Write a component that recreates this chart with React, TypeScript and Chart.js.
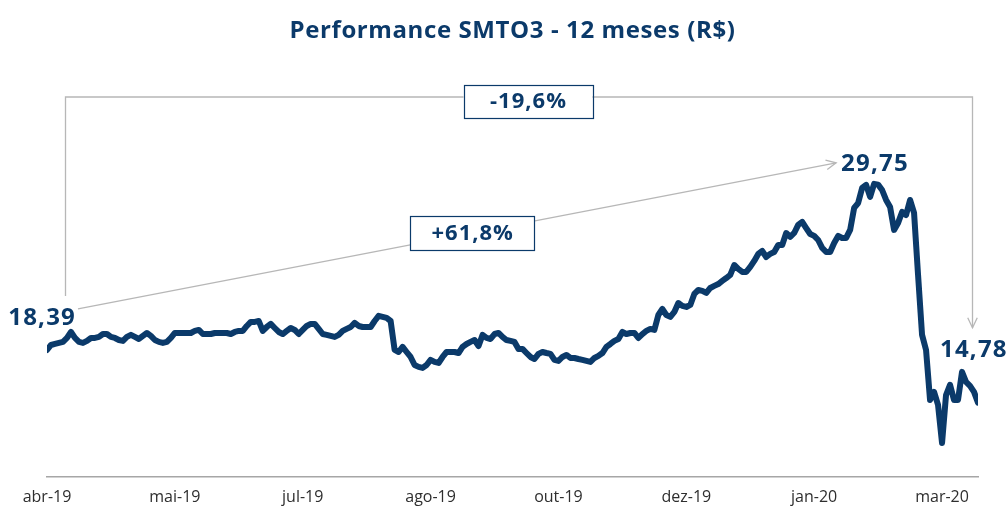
import { useEffect, useRef } from "react";
import { Chart, registerables } from "chart.js";

Chart.register(...registerables);

const chartTitle = "Performance SMTO3 - 12 meses (R$)";

// Daily closing prices (R$), abr-19 .. mar-20
const prices: number[] = [
  18.39, 18.73, 18.80, 18.87, 18.94, 19.21, 19.62, 19.21, 18.94, 18.87,
  19.01, 19.21, 19.21, 19.28, 19.48, 19.48, 19.28, 19.21, 19.07, 19.01,
  19.28, 19.42, 19.28, 19.14, 19.35, 19.55, 19.35, 19.07, 18.94, 18.87,
  18.94, 19.21, 19.55, 19.55, 19.55, 19.55, 19.55, 19.69, 19.76, 19.48,
  19.48, 19.48, 19.55, 19.55, 19.55, 19.55, 19.48, 19.62, 19.69, 19.69,
  20.03, 20.31, 20.31, 20.37, 19.69, 19.96, 20.17, 19.89, 19.62, 19.48,
  19.69, 19.89, 19.76, 19.48, 19.76, 20.03, 20.17, 20.17, 19.83, 19.48,
  19.42, 19.35, 19.28, 19.42, 19.69, 19.83, 19.96, 20.24, 20.03, 19.96,
  19.96, 19.96, 20.37, 20.72, 20.65, 20.58, 20.37, 18.39, 18.25, 18.60,
  18.25, 17.91, 17.36, 17.23, 17.16, 17.36, 17.71, 17.57, 17.50, 17.91,
  18.25, 18.25, 18.25, 18.18, 18.60, 18.80, 18.94, 19.07, 18.66, 19.42,
  19.21, 19.14, 19.48, 19.55, 19.28, 19.07, 19.01, 18.94, 18.46, 18.46,
  18.18, 17.91, 17.77, 18.12, 18.25, 18.18, 18.12, 17.71, 17.64, 17.91,
  18.05, 17.84, 17.84, 17.77, 17.71, 17.64, 17.57, 17.84, 17.98, 18.18,
  18.60, 18.80, 19.01, 19.14, 19.62, 19.48, 19.55, 19.55, 19.21, 19.48,
  19.69, 19.83, 19.76, 20.78, 21.19, 20.78, 20.65, 20.99, 21.60, 21.40,
  21.33, 21.47, 22.22, 22.49, 22.43, 22.29, 22.63, 22.77, 22.90, 23.11,
  23.31, 23.52, 24.20, 23.93, 23.73, 23.73, 24.07, 24.48, 24.96, 25.16,
  24.75, 24.96, 25.09, 25.57, 25.57, 26.39, 26.12, 26.39, 26.94, 27.15,
  26.73, 26.32, 26.19, 25.91, 25.37, 25.09, 25.09, 25.71, 26.19, 26.05,
  26.05, 26.60, 28.10, 28.44, 29.47, 29.68, 28.86, 29.75, 29.70, 29.33,
  28.65, 28.17, 26.60, 27.08, 27.83, 27.62, 28.65, 27.76, 23.52, 19.42,
  18.39, 14.97, 15.52, 14.63, 12.03, 15.31, 16.00, 14.97, 14.97, 16.89,
  16.20, 15.93, 15.52, 14.78,
];

const tickIndex: number[] = [0, 32, 64, 96, 128, 160, 192, 224];
const tickLabels: string[] = ["abr-19", "mai-19", "jul-19", "ago-19", "out-19", "dez-19", "jan-20", "mar-20"];

const NAVY = "#0b3a6a";
const GREY = "#b7b7b7";
const FONT = "'Open Sans', 'DejaVu Sans', sans-serif";

const fmt = (v: number, d: number) => v.toFixed(d).replace(".", ",");

function arrowHead(ctx: CanvasRenderingContext2D, x: number, y: number, ang: number) {
  const len = 11;
  const spread = Math.PI / 7;
  ctx.beginPath();
  ctx.moveTo(x - len * Math.cos(ang - spread), y - len * Math.sin(ang - spread));
  ctx.lineTo(x, y);
  ctx.lineTo(x - len * Math.cos(ang + spread), y - len * Math.sin(ang + spread));
  ctx.stroke();
}

function box(ctx: CanvasRenderingContext2D, text: string, cx: number, cy: number, w: number, h: number) {
  ctx.save();
  ctx.fillStyle = "#ffffff";
  ctx.fillRect(cx - w / 2, cy - h / 2, w, h);
  ctx.strokeStyle = NAVY;
  ctx.lineWidth = 1.2;
  ctx.strokeRect(Math.round(cx - w / 2) + 0.5, Math.round(cy - h / 2) + 0.5, w, h);
  ctx.fillStyle = NAVY;
  ctx.font = `bold 22px ${FONT}`;
  (ctx as any).letterSpacing = "1px";
  ctx.textAlign = "center";
  ctx.textBaseline = "middle";
  ctx.fillText(text, cx + 0.5, cy + 1);
  ctx.restore();
}

const annotations = {
  id: "annotations",
  afterDatasetsDraw(chart: any) {
    const { ctx, chartArea, scales } = chart;
    const xs = scales.x;
    const ys = scales.y;
    const n = prices.length;
    const first = prices[0];
    const last = prices[n - 1];
    const peak = Math.max(...prices);
    const peakIdx = prices.indexOf(peak);
    const p0 = { x: xs.getPixelForValue(0), y: ys.getPixelForValue(first) };
    const pk = { x: xs.getPixelForValue(peakIdx), y: ys.getPixelForValue(peak) };
    const pe = { x: xs.getPixelForValue(n - 1), y: ys.getPixelForValue(last) };

    ctx.save();
    // title
    ctx.fillStyle = NAVY;
    ctx.font = `bold 24px ${FONT}`;
    (ctx as any).letterSpacing = "0.6px";
    ctx.textAlign = "center";
    ctx.textBaseline = "middle";
    ctx.fillText(chartTitle, (chartArea.left + chartArea.right) / 2, 31);
    (ctx as any).letterSpacing = "0px";

    ctx.strokeStyle = GREY;
    ctx.lineWidth = 1.3;
    // bracket first -> last
    const topY = chartArea.top + 7;
    const lx = Math.round(p0.x + 18) + 0.5;
    const rx = Math.round(pe.x - 6) + 0.5;
    const arrowY = pe.y - 75;
    ctx.beginPath();
    ctx.moveTo(lx, p0.y - 54);
    ctx.lineTo(lx, topY);
    ctx.lineTo(rx, topY);
    ctx.lineTo(rx, arrowY);
    ctx.stroke();
    arrowHead(ctx, rx, arrowY, Math.PI / 2);

    // diagonal first -> peak
    const a = { x: p0.x + 31, y: p0.y - 41 };
    const b = { x: pk.x - 38, y: pk.y - 21 };
    ctx.beginPath();
    ctx.moveTo(a.x, a.y);
    ctx.lineTo(b.x, b.y);
    ctx.stroke();
    arrowHead(ctx, b.x, b.y, Math.atan2(b.y - a.y, b.x - a.x));

    // boxes
    const totalChg = (last / first - 1) * 100;
    const peakChg = (peak / first - 1) * 100;
    box(ctx, `${totalChg > 0 ? "+" : ""}${fmt(totalChg, 1)}%`, (lx + rx) / 2 + 9, topY + 4, 129, 33);
    const t = 0.52;
    box(ctx, `${peakChg > 0 ? "+" : ""}${fmt(peakChg, 1)}%`, a.x + (b.x - a.x) * t, a.y + (b.y - a.y) * t, 124, 34);

    // value labels
    ctx.fillStyle = NAVY;
    ctx.font = `bold 24px ${FONT}`;
    (ctx as any).letterSpacing = "1.2px";
    ctx.textBaseline = "middle";
    ctx.textAlign = "right";
    ctx.fillText(fmt(first, 2), p0.x + 29, p0.y - 32);
    ctx.textAlign = "left";
    ctx.fillText(fmt(peak, 2), pk.x - 33, pk.y - 20);
    ctx.fillText(fmt(last, 2), pe.x - 38, pe.y - 53);
    ctx.restore();
  },
};

export default function App() {
  const ref = useRef<HTMLCanvasElement | null>(null);

  useEffect(() => {
    if (!ref.current) return;
    const chart = new Chart(ref.current, {
      type: "line",
      data: {
        datasets: [
          {
            data: prices.map((p, i) => ({ x: i, y: p })),
            borderColor: NAVY,
            borderWidth: 6,
            pointRadius: 0,
            tension: 0,
            borderJoinStyle: "round",
            borderCapStyle: "round",
            fill: false,
          },
        ],
      },
      options: {
        responsive: false,
        animation: false,
        layout: { padding: { left: 47, right: 28, top: 90, bottom: 0 } },
        plugins: { legend: { display: false }, tooltip: { enabled: false }, title: { display: false } },
        scales: {
          x: {
            type: "linear",
            min: 0,
            max: prices.length - 1,
            grid: { display: false, drawTicks: false },
            border: { display: true, color: "#a6a6a6", width: 1.5 },
            afterBuildTicks: (axis: any) => {
              axis.ticks = tickIndex.map((v) => ({ value: v }));
            },
            afterFit: (axis: any) => {
              axis.height = 32;
            },
            ticks: {
              autoSkip: false,
              maxRotation: 0,
              padding: 11,
              color: "#2e2e2e",
              font: { family: FONT, size: 16 },
              callback: (v: any) => {
                const k = tickIndex.indexOf(Number(v));
                return k >= 0 ? tickLabels[k] : "";
              },
            },
          },
          y: { display: false, min: 9.7, max: 36.17 },
        },
      },
      plugins: [annotations],
    });
    return () => chart.destroy();
  }, []);

  return (
    <canvas
      ref={ref}
      width={1006}
      height={509}
      style={{ position: "absolute", left: 0, top: 0, display: "block", width: 1006, height: 509 }}
    />
  );
}
